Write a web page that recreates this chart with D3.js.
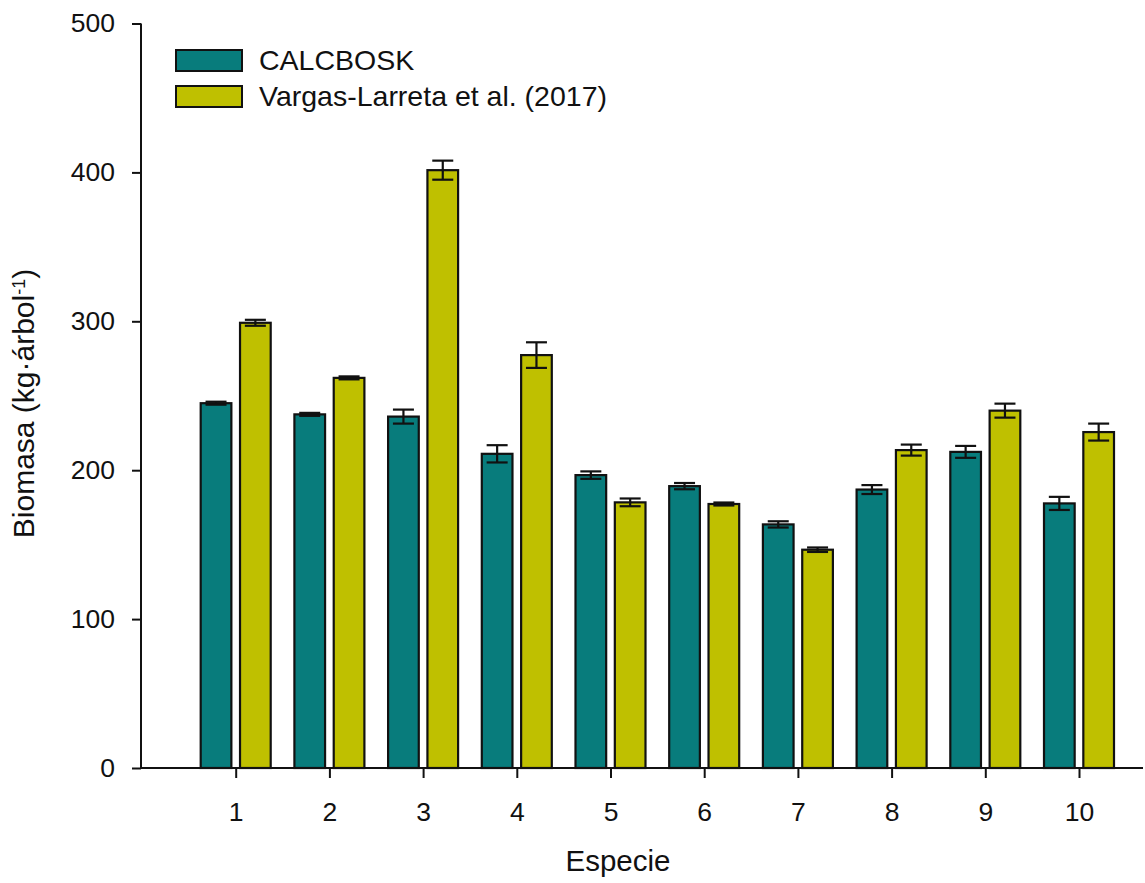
<!DOCTYPE html>
<html>
<head>
<meta charset="utf-8">
<script src="https://cdn.jsdelivr.net/npm/d3@7/dist/d3.min.js"></script>
<style>
  html, body { margin: 0; padding: 0; background: #fff; }
  svg { display: block; font-family: "Liberation Sans", Arial, sans-serif; }
</style>
</head>
<body>
<svg id="chart" width="1145" height="883"></svg>
<script>
const species = ["1", "2", "3", "4", "5", "6", "7", "8", "9", "10"];
const seriesNames = ["CALCBOSK", "Vargas-Larreta et al. (2017)"];
const seriesColors = ["#087c7c", "#bfc000"];

const calcbosk    = [245, 237.5, 236, 211, 196.7, 189.3, 163.6, 187, 212.3, 177.7];
const calcboskErr = [1, 1, 4.7, 5.8, 2.5, 2.1, 2.1, 3, 4, 4.4];
const vargas      = [299, 262, 401.5, 277.3, 178.4, 177.3, 146.6, 213.5, 240, 225.6];
const vargasErr   = [2, 1, 6.4, 8.6, 2.6, 1, 1.5, 3.7, 4.7, 5.7];

const yTicks = [0, 100, 200, 300, 400, 500];

const svg = d3.select("#chart");

const x = d3.scalePoint()
  .domain(species)
  .range([235.7, 1079]);

const x1 = d3.scaleBand()
  .domain(seriesNames)
  .range([-35, 35])
  .paddingInner(0.22);

const y = d3.scaleLinear()
  .domain([0, 500])
  .range([768, 23.5]);

const color = d3.scaleOrdinal()
  .domain(seriesNames)
  .range(seriesColors);

// rows: one per bar
const rows = [];
species.forEach((s, i) => {
  rows.push({ cat: s, series: seriesNames[0], value: calcbosk[i], err: calcboskErr[i] });
  rows.push({ cat: s, series: seriesNames[1], value: vargas[i], err: vargasErr[i] });
});

const barMid = d => x(d.cat) + x1(d.series) + x1.bandwidth() / 2;

// bars
svg.append("g")
  .selectAll("rect")
  .data(rows)
  .join("rect")
  .attr("x", d => x(d.cat) + x1(d.series))
  .attr("y", d => y(d.value))
  .attr("width", x1.bandwidth())
  .attr("height", d => y(0) - y(d.value))
  .attr("fill", d => color(d.series))
  .attr("stroke", "#111")
  .attr("stroke-width", 2.2);

// error bars
const errG = svg.append("g")
  .attr("stroke", "#111")
  .attr("stroke-width", 2.2);

const capHalf = 10.5;

errG.selectAll("line.v")
  .data(rows)
  .join("line")
  .attr("class", "v")
  .attr("x1", barMid)
  .attr("x2", barMid)
  .attr("y1", d => y(d.value + d.err))
  .attr("y2", d => y(d.value - d.err));

errG.selectAll("line.top")
  .data(rows)
  .join("line")
  .attr("class", "top")
  .attr("x1", d => barMid(d) - capHalf)
  .attr("x2", d => barMid(d) + capHalf)
  .attr("y1", d => y(d.value + d.err))
  .attr("y2", d => y(d.value + d.err));

errG.selectAll("line.bot")
  .data(rows)
  .join("line")
  .attr("class", "bot")
  .attr("x1", d => barMid(d) - capHalf)
  .attr("x2", d => barMid(d) + capHalf)
  .attr("y1", d => y(d.value - d.err))
  .attr("y2", d => y(d.value - d.err));

// y axis
const yAxis = svg.append("g")
  .attr("transform", "translate(141,0)")
  .call(d3.axisLeft(y).tickValues(yTicks).tickSize(9).tickPadding(17).tickSizeOuter(0));

yAxis.select(".domain").remove();
yAxis.selectAll(".tick line").attr("stroke", "#111").attr("stroke-width", 2);
yAxis.selectAll(".tick text")
  .attr("fill", "#111")
  .style("font-size", "26.5px")
  .style("font-family", "'Liberation Sans', Arial, sans-serif");

// x axis
const xAxis = svg.append("g")
  .attr("transform", "translate(0,768)")
  .call(d3.axisBottom(x).tickSize(10).tickPadding(24));

xAxis.select(".domain").remove();
xAxis.selectAll(".tick line").attr("stroke", "#111").attr("stroke-width", 2);
xAxis.selectAll(".tick text")
  .attr("fill", "#111")
  .style("font-size", "26.5px")
  .style("font-family", "'Liberation Sans', Arial, sans-serif");

// axis lines
svg.append("line")
  .attr("x1", 141).attr("x2", 141)
  .attr("y1", y(500)).attr("y2", y(0) + 1)
  .attr("stroke", "#111").attr("stroke-width", 2);

svg.append("line")
  .attr("x1", 140).attr("x2", 1143)
  .attr("y1", y(0)).attr("y2", y(0))
  .attr("stroke", "#111").attr("stroke-width", 2);

// axis titles
svg.append("text")
  .attr("x", 618)
  .attr("y", 871)
  .attr("text-anchor", "middle")
  .attr("fill", "#111")
  .style("font-size", "29.5px")
  .text("Especie");

const yTitle = svg.append("text")
  .attr("transform", "translate(34,403.5) rotate(-90)")
  .attr("text-anchor", "middle")
  .attr("fill", "#111")
  .style("font-size", "30px");

yTitle.append("tspan").text("Biomasa (kg·árbol");
yTitle.append("tspan")
  .attr("dy", "-0.5em")
  .style("font-size", "18px")
  .text("-1");
yTitle.append("tspan")
  .attr("dy", "0.3em")
  .text(")");

// legend
const legend = svg.append("g")
  .selectAll("g")
  .data(seriesNames)
  .join("g")
  .attr("transform", (d, i) => `translate(176,${50 + i * 36})`);

legend.append("rect")
  .attr("width", 66)
  .attr("height", 21)
  .attr("fill", d => color(d))
  .attr("stroke", "#111")
  .attr("stroke-width", 2);

legend.append("text")
  .attr("x", 83)
  .attr("y", 20)
  .attr("fill", "#111")
  .style("font-size", "28.5px")
  .text(d => d);
</script>
</body>
</html>
